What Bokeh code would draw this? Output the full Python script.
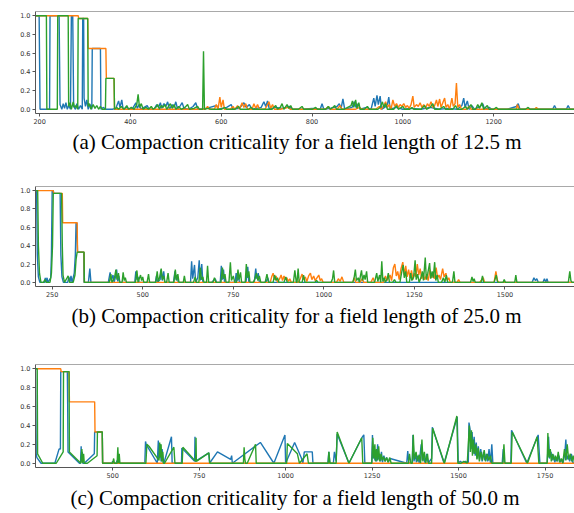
from bokeh.plotting import figure
from bokeh.layouts import column
from bokeh.models import Range1d, FixedTicker, Span
from bokeh.embed import file_html
from bokeh.resources import INLINE

BLUE, ORANGE, GREEN = "#1f77b4", "#ff7f0e", "#2ca02c"

y_ticks = [0.0, 0.2, 0.4, 0.6, 0.8, 1.0]
y_tick_labels = ["0.0", "0.2", "0.4", "0.6", "0.8", "1.0"]

# ---------------- panel (a): 12.5 m ----------------
a_ticks = [200, 400, 600, 800, 1000, 1200]
a_caption = "(a) Compaction criticality for a field length of 12.5 m"
a_blue = [(191,1.0),(199,1.0),(201,0.0),(222,0.0),(223,1.0),(243,1.0),(245,0.05),(249,0.0),(252,0.06),(255,0.01),(258,0.07),(261,0.0),(264,0.04),(268,0.0),(270,1.0),(273,1.0),(275,0.03),(279,0.0),(282,0.06),(286,0.0),(290,0.04),(294,0.0),(295,0.97),(297,0.97),(298,0.12),(301,0.03),(304,0.1),(307,0.0),(311,0.05),(315,0.0),(316,0.65),(334,0.65),(335,0.0),(340,0.02),(346,0.0),(360,0.0),(368,0.01),(374,0.09),(377,0.02),(381,0.1),(384,0.0),(392,0.02),(398,0.0),(405,0.01),(412,0.07),(415,0.01),(419,0.05),(423,0.0),(430,0.02),(437,0.04),(441,0.0),(452,0.0),(458,0.05),(462,0.02),(466,0.07),(469,0.01),(474,0.06),(478,0.03),(482,0.08),(486,0.0),(492,0.05),(496,0.02),(500,0.08),(504,0.0),(510,0.04),(514,0.07),(518,0.01),(528,0.0),(538,0.03),(544,0.07),(548,0.0),(560,0.0),(575,0.02),(590,0.04),(594,0.0),(612,0.02),(622,0.05),(626,0.0),(640,0.01),(650,0.07),(655,0.02),(662,0.05),(668,0.0),(688,0.02),(694,0.08),(698,0.03),(702,0.09),(706,0.0),(720,0.02),(735,0.01),(750,0.03),(755,0.0),(780,0.0),(800,0.01),(818,0.0),(822,0.06),(826,0.0),(840,0.01),(855,0.03),(860,0.06),(864,0.01),(868,0.11),(872,0.0),(888,0.02),(893,0.08),(897,0.02),(902,0.06),(906,0.0),(920,0.02),(930,0.0),(936,0.12),(939,0.03),(943,0.15),(946,0.05),(950,0.14),(953,0.0),(960,0.02),(966,0.05),(969,0.13),(972,0.0),(985,0.02),(1000,0.0),(1020,0.01),(1040,0.0),(1060,0.02),(1080,0.0),(1100,0.01),(1120,0.0),(1130,0.04),(1134,0.12),(1137,0.02),(1142,0.09),(1146,0.0),(1152,0.04),(1158,0.0),(1170,0.03),(1176,0.06),(1180,0.0),(1190,0.02),(1196,0.0),(1230,0.0),(1250,0.03),(1254,0.06),(1258,0.0),(1300,0.0),(1330,0.0),(1334,0.04),(1338,0.0),(1360,0.0),(1364,0.04),(1368,0.0),(1378,0.0)]
a_orange = [(191,1.0),(285,1.0),(286,0.97),(306,0.97),(307,0.65),(346,0.65),(347,0.33),(364,0.33),(365,0.0),(565,0.0),(570,0.03),(574,0.0),(585,0.0),(589,0.05),(593,0.0),(597,0.13),(600,0.02),(604,0.1),(607,0.0),(620,0.0),(626,0.03),(630,0.0),(636,0.04),(640,0.0),(646,0.07),(650,0.02),(654,0.06),(658,0.0),(668,0.0),(672,0.06),(676,0.01),(680,0.05),(684,0.0),(696,0.0),(701,0.04),(705,0.08),(709,0.01),(713,0.05),(717,0.0),(730,0.0),(748,0.02),(752,0.0),(800,0.0),(830,0.0),(836,0.03),(840,0.0),(855,0.0),(862,0.04),(866,0.0),(895,0.0),(905,0.02),(910,0.0),(940,0.0),(948,0.03),(952,0.0),(958,0.04),(962,0.08),(966,0.02),(970,0.05),(974,0.0),(978,0.1),(982,0.03),(986,0.06),(990,0.02),(994,0.05),(998,0.03),(1002,0.06),(1006,0.02),(1010,0.04),(1014,0.01),(1018,0.05),(1022,0.14),(1025,0.02),(1030,0.05),(1034,0.03),(1038,0.07),(1042,0.02),(1046,0.05),(1050,0.01),(1054,0.06),(1058,0.03),(1062,0.08),(1066,0.02),(1070,0.04),(1074,0.1),(1077,0.03),(1081,0.11),(1084,0.02),(1088,0.07),(1092,0.12),(1095,0.02),(1099,0.05),(1103,0.0),(1108,0.12),(1111,0.03),(1115,0.06),(1118,0.28),(1121,0.02),(1125,0.05),(1129,0.0),(1140,0.0),(1146,0.03),(1150,0.0),(1200,0.0),(1250,0.0),(1252,0.05),(1256,0.0),(1290,0.0),(1294,0.02),(1298,0.0),(1378,0.0)]
a_green = [(191,1.0),(215,1.0),(216,0.0),(239,0.0),(240,1.0),(263,1.0),(264,0.03),(267,0.07),(270,0.0),(274,0.08),(277,0.02),(280,0.04),(284,0.0),(285,0.97),(306,0.97),(307,0.03),(310,0.06),(313,0.0),(318,0.05),(322,0.01),(326,0.04),(330,0.0),(334,0.03),(338,0.0),(345,0.0),(346,0.33),(364,0.33),(365,0.0),(370,0.02),(374,0.0),(380,0.03),(386,0.0),(392,0.04),(396,0.0),(402,0.02),(408,0.0),(414,0.05),(417,0.16),(420,0.02),(424,0.06),(428,0.0),(434,0.02),(440,0.0),(446,0.03),(450,0.0),(456,0.02),(460,0.05),(464,0.0),(468,0.04),(472,0.02),(476,0.05),(480,0.0),(484,0.03),(488,0.06),(492,0.01),(496,0.05),(500,0.0),(506,0.03),(512,0.0),(520,0.02),(526,0.05),(530,0.0),(540,0.01),(548,0.03),(552,0.0),(559,0.0),(561,0.62),(563,0.0),(570,0.01),(578,0.0),(600,0.0),(608,0.02),(612,0.0),(630,0.0),(638,0.03),(642,0.0),(660,0.0),(666,0.02),(670,0.0),(712,0.0),(720,0.04),(724,0.0),(730,0.02),(734,0.06),(738,0.0),(745,0.05),(749,0.01),(753,0.04),(757,0.0),(770,0.0),(778,0.03),(782,0.0),(800,0.0),(808,0.02),(812,0.0),(830,0.0),(836,0.03),(840,0.0),(846,0.02),(850,0.04),(854,0.0),(870,0.0),(886,0.04),(889,0.09),(892,0.02),(896,0.1),(899,0.01),(903,0.07),(906,0.0),(915,0.0),(922,0.03),(926,0.0),(945,0.0),(950,0.02),(955,0.08),(958,0.02),(962,0.06),(966,0.0),(980,0.0),(986,0.04),(990,0.0),(1000,0.03),(1004,0.0),(1015,0.0),(1020,0.02),(1024,0.0),(1040,0.0),(1048,0.04),(1052,0.0),(1060,0.02),(1066,0.06),(1070,0.0),(1080,0.0),(1090,0.03),(1094,0.0),(1110,0.0),(1116,0.04),(1120,0.0),(1130,0.0),(1138,0.03),(1142,0.0),(1150,0.05),(1154,0.0),(1160,0.0),(1165,0.05),(1169,0.01),(1174,0.07),(1178,0.0),(1186,0.04),(1190,0.0),(1200,0.0),(1206,0.02),(1210,0.0),(1270,0.0),(1276,0.02),(1280,0.0),(1378,0.0)]

# ---------------- panel (b): 25.0 m ----------------
b_ticks = [250, 500, 750, 1000, 1250, 1500]
b_caption = "(b) Compaction criticality for a field length of 25.0 m"
b_blue = [(204,1.0),(207,1.0),(209,0.3),(212,0.06),(216,0.0),(229,0.0),(231,0.05),(233,0.0),(236,0.05),(238,0.0),(246,0.05),(248,0.3),(250,1.0),(253,1.0),(254,0.97),(272,0.97),(274,0.3),(277,0.06),(281,0.0),(293,0.0),(296,0.06),(299,0.0),(302,0.07),(305,0.0),(311,0.1),(314,0.3),(316,0.65),(318,0.65),(320,0.33),(337,0.33),(338,0.0),(350,0.0),(354,0.15),(357,0.0),(405,0.0),(410,0.11),(413,0.02),(418,0.08),(421,0.0),(425,0.06),(428,0.14),(431,0.01),(434,0.07),(437,0.0),(478,0.0),(481,0.12),(484,0.03),(487,0.06),(490,0.0),(535,0.0),(538,0.07),(541,0.0),(548,0.03),(551,0.14),(554,0.02),(558,0.12),(561,0.0),(585,0.0),(589,0.12),(592,0.03),(595,0.08),(598,0.0),(632,0.0),(635,0.23),(638,0.04),(643,0.19),(646,0.0),(652,0.05),(656,0.24),(659,0.02),(663,0.2),(666,0.0),(690,0.0),(700,0.04),(704,0.0),(714,0.0),(717,0.18),(720,0.03),(723,0.14),(726,0.0),(755,0.0),(758,0.1),(761,0.02),(764,0.07),(767,0.0),(785,0.0),(790,0.17),(793,0.0),(808,0.0),(812,0.15),(815,0.04),(819,0.1),(822,0.0),(840,0.0),(845,0.05),(849,0.0),(870,0.0),(1575,0.0),(1580,0.05),(1584,0.02),(1588,0.04),(1592,0.0),(1605,0.0),(1609,0.04),(1613,0.0),(1616,0.04),(1619,0.0),(1692,0.0)]
b_orange = [(204,1.0),(253,1.0),(254,0.97),(278,0.97),(279,0.65),(319,0.65),(320,0.33),(338,0.33),(339,0.0),(852,0.0),(856,0.06),(860,0.1),(864,0.03),(868,0.07),(872,0.0),(878,0.04),(882,0.08),(886,0.02),(890,0.07),(894,0.03),(898,0.05),(902,0.01),(906,0.04),(910,0.0),(930,0.0),(935,0.04),(940,0.09),(944,0.03),(949,0.06),(953,0.01),(958,0.07),(963,0.1),(967,0.03),(972,0.07),(976,0.02),(981,0.05),(986,0.08),(990,0.02),(994,0.04),(998,0.0),(1035,0.0),(1040,0.04),(1045,0.01),(1050,0.06),(1055,0.0),(1080,0.0),(1084,0.05),(1088,0.0),(1100,0.0),(1106,0.04),(1110,0.0),(1130,0.0),(1136,0.05),(1140,0.0),(1165,0.0),(1170,0.07),(1174,0.02),(1183,0.08),(1187,0.02),(1192,0.16),(1196,0.2),(1200,0.07),(1204,0.12),(1208,0.03),(1213,0.15),(1218,0.22),(1222,0.08),(1226,0.18),(1230,0.06),(1234,0.14),(1238,0.05),(1242,0.13),(1246,0.03),(1250,0.1),(1254,0.06),(1258,0.2),(1262,0.08),(1266,0.15),(1270,0.04),(1274,0.1),(1278,0.03),(1284,0.08),(1288,0.02),(1293,0.14),(1297,0.05),(1301,0.09),(1305,0.04),(1310,0.16),(1314,0.05),(1318,0.08),(1322,0.03),(1328,0.15),(1332,0.06),(1337,0.1),(1341,0.02),(1345,0.05),(1349,0.0),(1368,0.0),(1372,0.03),(1376,0.0),(1430,0.0),(1436,0.03),(1440,0.05),(1444,0.0),(1470,0.0),(1475,0.12),(1479,0.02),(1483,0.0),(1692,0.0)]
b_green = [(204,1.0),(210,1.0),(212,0.4),(215,0.1),(219,0.0),(226,0.0),(230,0.03),(234,0.0),(244,0.0),(248,0.1),(251,0.4),(253,0.97),(276,0.97),(278,0.4),(280,0.08),(284,0.0),(290,0.04),(294,0.07),(298,0.0),(308,0.0),(313,0.08),(316,0.25),(319,0.33),(338,0.33),(339,0.0),(408,0.0),(412,0.09),(415,0.0),(422,0.05),(426,0.14),(429,0.03),(433,0.1),(436,0.0),(443,0.0),(446,0.11),(449,0.02),(452,0.05),(455,0.0),(480,0.0),(484,0.13),(487,0.0),(494,0.08),(497,0.02),(500,0.06),(503,0.0),(512,0.0),(516,0.09),(519,0.0),(536,0.0),(540,0.12),(543,0.01),(547,0.06),(551,0.15),(554,0.03),(558,0.07),(561,0.0),(566,0.0),(570,0.1),(573,0.0),(586,0.0),(590,0.14),(593,0.02),(597,0.09),(600,0.0),(612,0.0),(615,0.07),(618,0.0),(640,0.0),(645,0.06),(648,0.0),(655,0.0),(659,0.16),(662,0.03),(666,0.06),(669,0.0),(676,0.0),(679,0.18),(682,0.0),(694,0.0),(698,0.05),(702,0.0),(716,0.0),(720,0.16),(723,0.04),(727,0.09),(730,0.0),(738,0.0),(742,0.22),(745,0.02),(750,0.07),(754,0.0),(759,0.0),(763,0.14),(766,0.03),(770,0.11),(773,0.0),(783,0.0),(786,0.2),(789,0.05),(793,0.12),(796,0.0),(805,0.0),(810,0.04),(814,0.1),(818,0.02),(822,0.07),(826,0.0),(838,0.0),(843,0.09),(847,0.0),(860,0.0),(864,0.08),(868,0.02),(872,0.05),(876,0.0),(890,0.0),(895,0.06),(899,0.0),(916,0.0),(920,0.13),(924,0.0),(926,0.0),(929,0.15),(932,0.0),(940,0.0),(944,0.08),(948,0.0),(975,0.0),(980,0.02),(984,0.0),(1020,0.0),(1024,0.04),(1027,0.13),(1030,0.0),(1080,0.0),(1084,0.06),(1087,0.14),(1090,0.02),(1095,0.05),(1098,0.0),(1101,0.07),(1104,0.13),(1107,0.02),(1111,0.08),(1114,0.03),(1118,0.12),(1121,0.0),(1140,0.0),(1143,0.05),(1146,0.1),(1149,0.01),(1154,0.08),(1157,0.0),(1160,0.23),(1163,0.01),(1167,0.05),(1170,0.0),(1175,0.04),(1178,0.1),(1181,0.0),(1190,0.0),(1195,0.03),(1199,0.0),(1210,0.0),(1214,0.09),(1219,0.19),(1222,0.05),(1226,0.12),(1229,0.0),(1236,0.0),(1240,0.1),(1243,0.02),(1248,0.06),(1252,0.24),(1255,0.03),(1259,0.09),(1263,0.0),(1268,0.05),(1272,0.12),(1275,0.02),(1280,0.27),(1283,0.03),(1287,0.1),(1292,0.21),(1295,0.04),(1299,0.12),(1302,0.05),(1306,0.22),(1309,0.02),(1313,0.08),(1316,0.0),(1325,0.0),(1330,0.05),(1334,0.0),(1338,0.08),(1342,0.0),(1355,0.0),(1359,0.12),(1362,0.0),(1405,0.0),(1409,0.06),(1412,0.01),(1415,0.04),(1418,0.0),(1434,0.0),(1438,0.07),(1441,0.0),(1470,0.0),(1476,0.08),(1480,0.0),(1495,0.0),(1498,0.03),(1501,0.0),(1527,0.0),(1530,0.08),(1533,0.0),(1675,0.0),(1679,0.12),(1682,0.02),(1685,0.0),(1692,0.0)]

# ---------------- panel (c): 50.0 m ----------------
c_ticks = [500, 750, 1000, 1250, 1500, 1750]
c_caption = "(c) Compaction criticality for a field length of 50.0 m"
c_blue = [(277,1.0),(279,0.1),(281,0.06),(293,0.0),(333,0.0),(345,0.15),(349,0.15),(350,0.97),(369,0.97),(370,0.62),(371,0.12),(404,0.0),(407,0.0),(409,0.18),(410,0.02),(412,0.12),(414,0.0),(418,0.0),(447,0.1),(448,0.33),(470,0.33),(471,0.0),(498,0.0),(500,0.02),(502,0.0),(510,0.0),(513,0.03),(515,0.0),(593,0.0),(595,0.23),(597,0.2),(629,0.0),(632,0.24),(634,0.05),(637,0.2),(640,0.02),(643,0.15),(646,0.0),(648,0.0),(670,0.28),(672,0.0),(699,0.0),(700,0.16),(737,0.02),(738,0.28),(739,0.02),(778,0.11),(780,0.0),(803,0.12),(841,0.04),(844,0.08),(846,0.0),(927,0.22),(966,0.0),(998,0.3),(1000,0.0),(1026,0.22),(1045,0.06),(1050,0.0),(1054,0.12),(1077,0.12),(1079,0.0),(1122,0.0),(1125,0.12),(1128,0.0),(1138,0.0),(1141,0.12),(1146,0.02),(1149,0.31),(1183,0.0),(1222,0.28),(1226,0.3),(1229,0.0),(1249,0.0),(1251,0.3),(1253,0.05),(1256,0.18),(1258,0.03),(1261,0.14),(1263,0.02),(1266,0.2),(1268,0.04),(1271,0.1),(1274,0.02),(1277,0.12),(1280,0.01),(1284,0.08),(1288,0.02),(1292,0.06),(1297,0.01),(1302,0.05),(1350,0.0),(1353,0.13),(1356,0.0),(1366,0.0),(1368,0.3),(1371,0.02),(1375,0.1),(1378,0.01),(1382,0.08),(1386,0.0),(1392,0.2),(1395,0.03),(1399,0.08),(1403,0.0),(1408,0.1),(1412,0.0),(1422,0.05),(1424,0.38),(1458,0.0),(1496,0.49),(1499,0.0),(1505,0.02),(1512,0.0),(1520,0.02),(1528,0.0),(1530,0.43),(1533,0.36),(1536,0.15),(1539,0.33),(1542,0.1),(1545,0.28),(1548,0.08),(1551,0.22),(1554,0.05),(1557,0.18),(1560,0.04),(1564,0.15),(1568,0.02),(1572,0.12),(1576,0.03),(1580,0.1),(1584,0.02),(1588,0.15),(1592,0.0),(1596,0.2),(1599,0.0),(1626,0.0),(1629,0.15),(1632,0.0),(1651,0.0),(1653,0.35),(1697,0.0),(1730,0.3),(1735,0.0),(1756,0.0),(1760,0.28),(1763,0.05),(1767,0.12),(1770,0.03),(1774,0.09),(1778,0.01),(1782,0.06),(1786,0.02),(1790,0.08),(1794,0.01),(1798,0.04),(1802,0.0),(1807,0.1),(1810,0.25),(1813,0.04),(1817,0.08),(1821,0.02),(1826,0.1),(1830,0.0),(1835,0.0)]
c_orange = [(277,1.0),(350,1.0),(351,0.97),(374,0.97),(375,0.65),(448,0.65),(449,0.33),(470,0.33),(471,0.0),(1835,0.0)]
c_green = [(277,1.0),(282,1.0),(283,0.1),(298,0.0),(337,0.0),(357,0.12),(358,0.97),(374,0.97),(375,0.12),(408,0.0),(411,0.15),(413,0.0),(416,0.1),(418,0.0),(427,0.0),(455,0.08),(456,0.33),(470,0.33),(471,0.0),(500,0.0),(503,0.05),(505,0.0),(513,0.0),(515,0.17),(517,0.0),(519,0.1),(521,0.0),(596,0.0),(599,0.2),(605,0.18),(634,0.03),(636,0.22),(638,0.06),(640,0.2),(642,0.02),(645,0.12),(647,0.0),(650,0.0),(677,0.17),(680,0.0),(701,0.0),(703,0.17),(740,0.02),(741,0.27),(742,0.02),(778,0.11),(781,0.0),(878,0.0),(880,0.17),(882,0.05),(884,0.0),(889,0.0),(913,0.2),(915,0.0),(1003,0.0),(1005,0.21),(1034,0.1),(1040,0.0),(1062,0.1),(1066,0.0),(1123,0.0),(1125,0.12),(1128,0.0),(1146,0.0),(1149,0.33),(1183,0.0),(1220,0.27),(1223,0.0),(1249,0.0),(1252,0.27),(1255,0.05),(1258,0.2),(1260,0.02),(1263,0.15),(1266,0.03),(1269,0.18),(1272,0.02),(1276,0.1),(1279,0.03),(1283,0.07),(1287,0.02),(1292,0.06),(1296,0.01),(1301,0.06),(1305,0.0),(1355,0.0),(1358,0.1),(1362,0.0),(1366,0.0),(1369,0.3),(1372,0.04),(1377,0.12),(1381,0.02),(1386,0.09),(1390,0.0),(1394,0.25),(1397,0.02),(1401,0.12),(1405,0.0),(1410,0.1),(1413,0.0),(1422,0.0),(1425,0.37),(1459,0.0),(1495,0.5),(1498,0.0),(1507,0.0),(1515,0.02),(1525,0.0),(1531,0.4),(1534,0.12),(1537,0.35),(1540,0.08),(1543,0.25),(1546,0.1),(1550,0.2),(1553,0.04),(1557,0.16),(1560,0.02),(1565,0.12),(1569,0.03),(1574,0.14),(1578,0.02),(1583,0.1),(1587,0.03),(1592,0.08),(1596,0.0),(1628,0.0),(1631,0.2),(1634,0.0),(1652,0.0),(1655,0.33),(1699,0.0),(1727,0.28),(1732,0.0),(1756,0.0),(1758,0.32),(1761,0.06),(1765,0.15),(1768,0.02),(1772,0.1),(1776,0.03),(1780,0.08),(1784,0.02),(1788,0.12),(1792,0.01),(1797,0.05),(1801,0.0),(1806,0.15),(1810,0.03),(1814,0.2),(1818,0.04),(1823,0.1),(1827,0.02),(1831,0.08),(1835,0.0)]


def make_panel(series, xr, xticks, caption, height, top, frame_h, left, offset, standoff):
    p = figure(width=574, height=height, output_backend="svg", toolbar_location=None,
               x_range=Range1d(*xr), y_range=Range1d(-0.045, 1.045),
               min_border_top=top, min_border_left=left, min_border_right=0,
               min_border_bottom=height - top - frame_h,
               title=caption, title_location="below")
    p.outline_line_color = None
    p.background_fill_color = "white"
    p.xgrid.visible = False
    p.ygrid.visible = False
    for pts, col in series:
        xs = [q[0] for q in pts]
        ys = [q[1] for q in pts]
        p.line(xs, ys, line_color=col, line_width=1.4)
    p.add_layout(Span(location=1.045, dimension="width", line_color="#555555", line_width=1))
    p.xaxis.ticker = FixedTicker(ticks=xticks)
    p.yaxis.ticker = FixedTicker(ticks=y_ticks)
    p.yaxis.major_label_overrides = {t: l for t, l in zip(y_ticks, y_tick_labels)}
    for ax in (p.xaxis, p.yaxis):
        ax.axis_line_color = "#555555"
        ax.major_tick_line_color = "#555555"
        ax.major_tick_out = 3
        ax.major_tick_in = 0
        ax.minor_tick_line_color = None
        ax.major_label_text_font = "DejaVu Sans"
        ax.major_label_text_font_size = "6.5px"
        ax.major_label_text_color = "#333333"
        ax.major_label_standoff = 2
    p.title.text_font = "Liberation Serif"
    p.title.text_font_size = "21px"
    p.title.text_font_style = "normal"
    p.title.text_color = "black"
    p.title.align = "left"
    p.title.offset = offset
    p.title.standoff = standoff
    return p


pa = make_panel([(a_blue, BLUE), (a_orange, ORANGE), (a_green, GREEN)],
                (191, 1378), a_ticks, a_caption, 165, 11, 102, 31, 37, 2)
pb = make_panel([(b_blue, BLUE), (b_orange, ORANGE), (b_green, GREEN)],
                (204, 1692), b_ticks, b_caption, 180, 21, 100, 32, 36, 5)
pc = make_panel([(c_blue, BLUE), (c_orange, ORANGE), (c_green, GREEN)],
                (277, 1835), c_ticks, c_caption, 168, 19, 103, 35, 35, 7)

layout = column(pa, pb, pc, spacing=0)
open("out.html", "w").write(file_html(layout, INLINE))
